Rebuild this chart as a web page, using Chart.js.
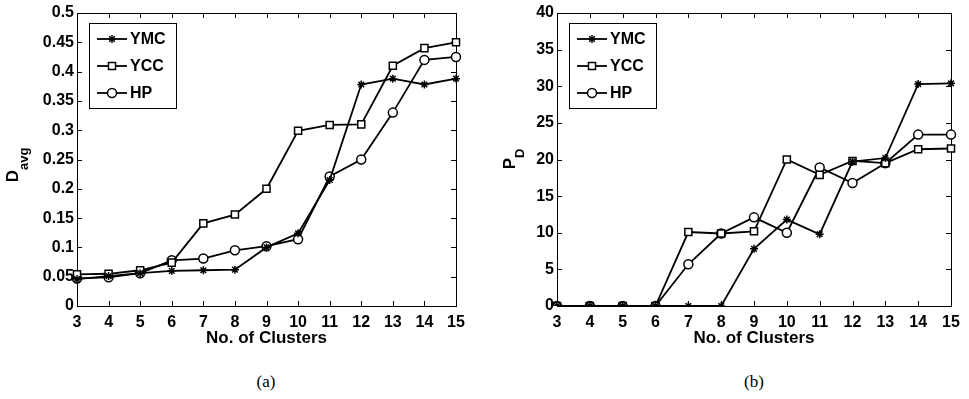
<!DOCTYPE html>
<html>
<head>
<meta charset="utf-8">
<script src="https://cdn.jsdelivr.net/npm/chart.js@4/dist/chart.umd.min.js"></script>
<style>
body{margin:0;background:#fff;width:969px;height:399px;overflow:hidden;position:relative}
.box{position:absolute;top:0}
#boxA{left:0}
#boxB{left:480px}
.cap{position:absolute;top:372px;font-family:"Liberation Serif",serif;font-size:17px;transform:translateX(-50%)}
</style>
</head>
<body>
<div class="box" id="boxA"><canvas id="chartA" width="480" height="355"></canvas></div>
<div class="box" id="boxB"><canvas id="chartB" width="489" height="355"></canvas></div>
<div class="cap" style="left:266px">(a)</div>
<div class="cap" style="left:754px">(b)</div>
<script>
// x categories: number of clusters
const clusters = ['3','4','5','6','7','8','9','10','11','12','13','14','15'];
const seriesNames = ['YMC','YCC','HP'];

// (a) D_avg
const davgYMC = [0.046,0.051,0.056,0.060,0.061,0.062,0.100,0.124,0.215,0.378,0.388,0.378,0.388];
const davgYCC = [0.054,0.055,0.061,0.074,0.141,0.156,0.200,0.299,0.309,0.310,0.410,0.440,0.450];
const davgHP  = [0.047,0.049,0.056,0.078,0.081,0.095,0.102,0.114,0.221,0.250,0.330,0.420,0.425];
const davgTicks = [0,0.05,0.1,0.15,0.2,0.25,0.3,0.35,0.4,0.45,0.5];

// (b) P_D
const pdYMC = [0,0,0,0,0,0,7.8,11.8,9.8,19.7,20.2,30.3,30.4];
const pdYCC = [0,0,0,0,10.1,9.9,10.2,20.0,17.9,19.8,19.5,21.4,21.5];
const pdHP  = [0,0,0,0,5.7,9.9,12.1,10.0,18.9,16.8,19.5,23.4,23.4];
const pdTicks = [0,5,10,15,20,25,30,35,40];

const FONT = '"Liberation Sans", Arial, Helvetica, sans-serif';
const markers = [
  {pointStyle:'star', radius:4, borderWidth:1.5},
  {pointStyle:'rect', radius:5, borderWidth:1.5},
  {pointStyle:'circle', radius:4.5, borderWidth:1.5}
];

// box, inward ticks, legend and y title (with subscript), matlab style
const figPlugin = {
  id: 'fig',
  beforeDatasetsDraw(chart) {
    const ctx = chart.ctx, a = chart.chartArea;
    const xs = chart.scales.x, ys = chart.scales.y;
    ctx.save();
    ctx.strokeStyle = '#000';
    ctx.lineWidth = 1;
    ctx.strokeRect(a.left + 0.5, a.top + 0.5, a.right - a.left, a.bottom - a.top);
    ctx.beginPath();
    xs.ticks.forEach((t, i) => {
      const x = Math.round(xs.getPixelForTick(i)) + 0.5;
      ctx.moveTo(x, a.bottom); ctx.lineTo(x, a.bottom - 5);
      ctx.moveTo(x, a.top); ctx.lineTo(x, a.top + 5);
    });
    ys.ticks.forEach((t, i) => {
      const y = Math.round(ys.getPixelForTick(i)) + 0.5;
      ctx.moveTo(a.left, y); ctx.lineTo(a.left + 5, y);
      ctx.moveTo(a.right, y); ctx.lineTo(a.right - 5, y);
    });
    ctx.stroke();
    ctx.restore();
  },
  afterDraw(chart, args, opts) {
    const ctx = chart.ctx;
    ctx.save();
    // legend
    const lx = 89, ly = 23, lw = 87, lh = 85;
    ctx.fillStyle = '#fff';
    ctx.fillRect(lx, ly, lw, lh);
    ctx.strokeStyle = '#000';
    ctx.lineWidth = 1;
    ctx.strokeRect(lx + 0.5, ly + 0.5, lw, lh);
    chart.data.datasets.forEach((ds, i) => {
      const y = 39 + i * 27;
      ctx.strokeStyle = '#000';
      ctx.lineWidth = 1.8;
      ctx.beginPath(); ctx.moveTo(97, y); ctx.lineTo(127, y); ctx.stroke();
      ctx.fillStyle = ds.pointBackgroundColor;
      ctx.lineWidth = markers[i].borderWidth;
      Chart.helpers.drawPoint(ctx, {pointStyle: markers[i].pointStyle, radius: markers[i].radius, rotation: 0, borderWidth: markers[i].borderWidth}, 112, y);
      ctx.fillStyle = '#000';
      ctx.font = 'bold 16px ' + FONT;
      ctx.textBaseline = 'middle';
      ctx.textAlign = 'left';
      ctx.fillText(ds.label, 130, y + 1);
    });
    // y title
    ctx.translate(opts.tx, opts.ty);
    ctx.rotate(-Math.PI / 2);
    ctx.fillStyle = '#000';
    ctx.textBaseline = 'alphabetic';
    ctx.font = 'bold 17px ' + FONT;
    const w1 = ctx.measureText(opts.main).width;
    ctx.font = 'bold 13px ' + FONT;
    const w2 = ctx.measureText(opts.sub).width;
    const x0 = -(w1 + w2) / 2;
    ctx.font = 'bold 17px ' + FONT;
    ctx.fillText(opts.main, x0, 0);
    ctx.font = 'bold 13px ' + FONT;
    ctx.fillText(opts.sub, x0 + w1, opts.subDrop);
    ctx.restore();
  }
};

function makeChart(id, seriesList, yMax, yTicks, rightPad, title) {
  return new Chart(document.getElementById(id), {
    type: 'line',
    data: {
      labels: clusters,
      datasets: seriesList.map((d, i) => ({
        label: seriesNames[i],
        data: d,
        borderColor: '#000',
        borderWidth: 1.8,
        pointStyle: markers[i].pointStyle,
        pointRadius: markers[i].radius,
        pointBorderWidth: markers[i].borderWidth,
        pointBorderColor: '#000',
        pointBackgroundColor: i === 0 ? '#000' : '#fff',
        fill: false,
        tension: 0
      }))
    },
    options: {
      responsive: false,
      animation: false,
      layout: {padding: {top: 13, right: rightPad, left: 0, bottom: 0}},
      plugins: {
        legend: {display: false},
        tooltip: {enabled: false},
        fig: title
      },
      scales: {
        x: {
          grid: {display: false, drawTicks: false},
          border: {display: false},
          ticks: {color: '#000', font: {family: FONT, size: 16, weight: 'bold'}, padding: 7, maxRotation: 0, autoSkip: false},
          title: {display: true, text: 'No. of Clusters', color: '#000', font: {family: FONT, size: 17, weight: 'bold'}, padding: {top: 0, bottom: 6}},
          afterFit(s) { s.height = 49; }
        },
        y: {
          min: 0, max: yMax,
          grid: {display: false, drawTicks: false},
          border: {display: false},
          afterBuildTicks(s) { s.ticks = yTicks.map(v => ({value: v})); },
          ticks: {color: '#000', font: {family: FONT, size: 16, weight: 'bold'}, padding: 3,
                  callback: v => String(+v.toFixed(2))},
          afterFit(s) { s.width = 77; }
        }
      }
    },
    plugins: [figPlugin]
  });
}

makeChart('chartA', [davgYMC, davgYCC, davgHP], 0.5, davgTicks, 24,
  {main: 'D', sub: 'avg', subDrop: 10, tx: 18, ty: 165});
makeChart('chartB', [pdYMC, pdYCC, pdHP], 40, pdTicks, 18,
  {main: 'P', sub: 'D', subDrop: 9, tx: 35, ty: 159});
</script>
</body>
</html>
